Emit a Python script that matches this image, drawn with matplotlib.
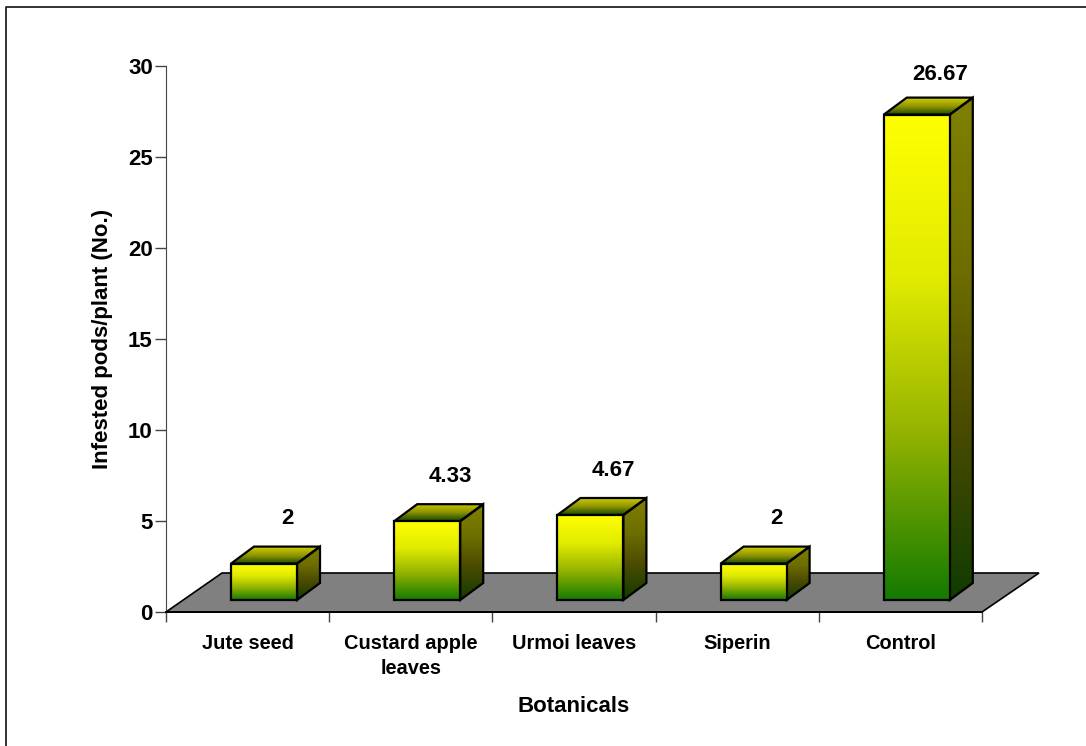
#!/usr/bin/env python
# -*- coding: utf-8 -*-
"""3D look bar chart of infested pods per plant, drawn with plain matplotlib."""

import numpy as np
import matplotlib
matplotlib.use("Agg")
import matplotlib.pyplot as plt
from matplotlib.colors import LinearSegmentedColormap
from matplotlib.lines import Line2D
from matplotlib.patches import Polygon

plt.rcParams["font.family"] = ["Liberation Sans", "DejaVu Sans"]
plt.rcParams["font.weight"] = "bold"

categories = ["Jute seed", "Custard apple\nleaves", "Urmoi leaves", "Siperin", "Control"]
values = [2, 4.33, 4.67, 2, 26.67]
value_labels = ["2", "4.33", "4.67", "2", "26.67"]
y_ticks = [0, 5, 10, 15, 20, 25, 30]

W, H = 1086, 746
# depth of the fake 3D, in data units (x = category, y = pods)
PX_X = 163.2
PX_Y = 18.2
DX = 23 / PX_X
DY = 17 / PX_Y
BASE = 12 / PX_Y
BAR_W = 66 / PX_X
BAR_OFF = 65 / PX_X

front_cmap = LinearSegmentedColormap.from_list(
    "front", [(0, "#ffff00"), (0.34, "#e1eb00"), (0.65, "#96b400"), (1, "#147a00")])
side_cmap = LinearSegmentedColormap.from_list(
    "side", [(0, "#808000"), (0.34, "#6e6e00"), (0.65, "#4b4b00"), (1, "#103c00")])
top_cmap = LinearSegmentedColormap.from_list(
    "top", [(0, "#cccc00"), (0.5, "#8f9400"), (1, "#144800")])


def gradient_poly(ax, pts, cmap, zorder):
    # vertical gradient clipped to a polygon
    pts = np.array(pts)
    x0, x1 = pts[:, 0].min(), pts[:, 0].max()
    y0, y1 = pts[:, 1].min(), pts[:, 1].max()
    grad = np.linspace(0, 1, 256).reshape(-1, 1)
    im = ax.imshow(grad, cmap=cmap, extent=(x0, x1, y0, y1), origin="upper",
                   aspect="auto", zorder=zorder, clip_on=True)
    poly = Polygon(pts, closed=True, fc="none", ec="black", lw=1.6,
                   joinstyle="miter", zorder=zorder + 0.5, clip_on=False)
    ax.add_patch(poly)
    im.set_clip_path(poly)


fig = plt.figure(figsize=(W / 100, H / 100), dpi=100)
# only the left and top edges of the outer frame show
fig.add_artist(Line2D([5.5 / W, 5.5 / W, 1], [0, 1 - 6.5 / H, 1 - 6.5 / H],
                      color="#222222", lw=1.3, transform=fig.transFigure))
ax = fig.add_axes([166 / W, 1 - 612 / H, 816 / W, 546 / H])

# floor
floor = Polygon([(0, 0), (5, 0), (5 + 57 / PX_X, 39 / PX_Y), (56 / PX_X, 39 / PX_Y)],
                closed=True, fc="#808080", ec="black", lw=1.2, zorder=1, clip_on=False)
ax.add_patch(floor)

for i, (val, lab) in enumerate(zip(values, value_labels)):
    x0 = i + BAR_OFF
    x1 = x0 + BAR_W
    y0 = BASE
    y1 = BASE + val
    gradient_poly(ax, [(x1, y0), (x1 + DX, y0 + DY), (x1 + DX, y1 + DY), (x1, y1)], side_cmap, 3)
    gradient_poly(ax, [(x0, y1), (x1, y1), (x1 + DX, y1 + DY), (x0 + DX, y1 + DY)], top_cmap, 3)
    gradient_poly(ax, [(x0, y0), (x1, y0), (x1, y1), (x0, y1)], front_cmap, 4)
    ax.text(x0 + 56 / PX_X, y1 + DY + (29 - 0.22 * val) / PX_Y, lab, ha="center", va="center",
            fontsize=16, fontweight="bold")

ax.set_xlim(0, 5)
ax.set_ylim(0, 30)
ax.set_yticks(y_ticks)
ax.set_xticks(range(6))
ax.set_xticklabels([])
ax.set_xticks(np.arange(5) + 0.5, categories, minor=True)
ax.tick_params(axis="x", which="major", length=7, width=1, color="#444444", direction="out")
ax.tick_params(axis="x", which="minor", length=0, pad=15.5, labelsize=14.4)
ax.tick_params(axis="y", length=8, width=1, color="#444444", pad=1.5, labelsize=16)
for tick in ax.get_xticklabels(minor=True):
    tick.set_linespacing(1.45)
for s in ["top", "right"]:
    ax.spines[s].set_visible(False)
ax.spines["left"].set_color("#444444")
ax.spines["bottom"].set_linewidth(1.4)
ax.set_ylabel("Infested pods/plant (No.)", fontsize=16, fontweight="bold", labelpad=11)
ax.set_xlabel("Botanicals", fontsize=16, fontweight="bold", labelpad=12.5)
ax.patch.set_alpha(0)

fig.savefig("out.png", dpi=100)
